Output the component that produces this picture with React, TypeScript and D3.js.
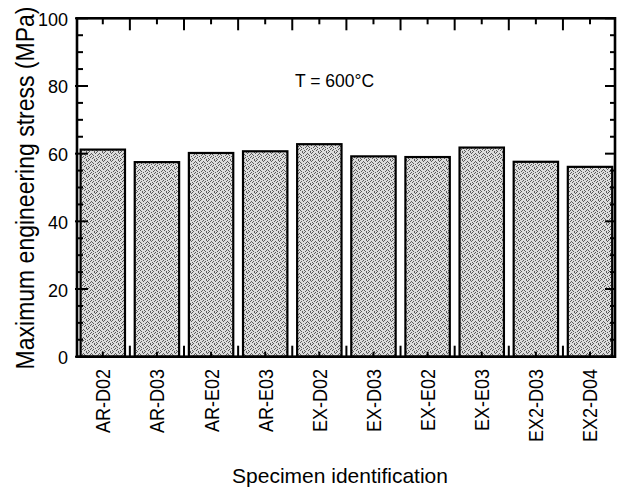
import React from "react";
import * as d3 from "d3";

const categories = ["AR-D02", "AR-D03", "AR-E02", "AR-E03", "EX-D02", "EX-D03", "EX-E02", "EX-E03", "EX2-D03", "EX2-D04"];
const stress = [61.2, 57.5, 60.2, 60.7, 62.8, 59.2, 59.0, 61.8, 57.6, 56.1];
const yTickLabels = [0, 20, 40, 60, 80, 100];
const yMinorTicks = d3.range(0, 101, 5);
const annotation = "T = 600°C";
const xTitle = "Specimen identification";
const yTitle = "Maximum engineering stress (MPa)";

// stipple dots for the pattern (fixed layout)
const stippleDots = [
  [0, 0], [3, 1], [6, 0], [1, 3], [5, 3], [7, 4], [2, 5], [4, 6], [0, 6], [6, 7], [3, 4], [1, 7],
  [4, 2], [7, 1], [2, 2], [5, 5],
];

const W = 618, H = 491;
const left = 77, right = 615, top = 18.3, bottom = 356.7;
const font = "'Liberation Sans', Arial, Helvetica, sans-serif";

export default function App() {
  const x = d3.scaleLinear().domain([0, categories.length - 1]).range([102.8, 590]);
  const y = d3.scaleLinear().domain([0, 100]).range([bottom, top]);
  const step = x(1) - x(0);
  const barW = step * 0.82;
  const boundaries = d3.range(0, categories.length - 1).map((i) => x(i + 0.5));

  return (
    <svg width={W} height={H} style={{ position: "absolute", left: 0, top: 0 }} fontFamily={font}>
      <defs>
        <pattern id="stip" width={8} height={8} patternUnits="userSpaceOnUse">
          <rect width={8} height={8} fill="#dcdcdc" />
          {stippleDots.map(([dx, dy], i) => (
            <rect key={i} x={dx} y={dy} width={1} height={1} fill="#5a5a5a" />
          ))}
        </pattern>
      </defs>
      <rect width={W} height={H} fill="#fff" />

      {/* bars */}
      {stress.map((v, i) => (
        <rect
          key={categories[i]}
          x={x(i) - barW / 2}
          y={y(v)}
          width={barW}
          height={y(0) - y(v)}
          fill="url(#stip)"
          stroke="#000"
          strokeWidth={2.2}
        />
      ))}

      {/* frame */}
      <rect x={left} y={top} width={right - left} height={bottom - top} fill="none" stroke="#000" strokeWidth={2.6} />

      {/* left/right ticks */}
      {yMinorTicks.map((t) => {
        const major = t % 20 === 0;
        return (
          <g key={t}>
            <line x1={left - (major ? 2 : 0)} x2={left + (major ? 11 : 6)} y1={y(t)} y2={y(t)} stroke="#000" strokeWidth={2} />
            <line x1={right} x2={right - (major ? 10 : 5)} y1={y(t)} y2={y(t)} stroke="#000" strokeWidth={2} />
          </g>
        );
      })}

      {/* top/bottom ticks */}
      {categories.map((c, i) => (
        <g key={c}>
          <line x1={x(i)} x2={x(i)} y1={top} y2={top + 6} stroke="#000" strokeWidth={2} />
          <line x1={x(i)} x2={x(i)} y1={bottom} y2={bottom - 5} stroke="#000" strokeWidth={2} />
        </g>
      ))}
      {boundaries.map((b, i) => (
        <g key={i}>
          <line x1={b} x2={b} y1={top} y2={top + 12} stroke="#000" strokeWidth={2} />
          <line x1={b} x2={b} y1={bottom} y2={bottom - 11} stroke="#000" strokeWidth={2} />
        </g>
      ))}

      {/* y tick labels */}
      {yTickLabels.map((t) => (
        <text key={t} x={68} y={y(t) + 1} dy="0.36em" textAnchor="end" fontSize={18}>
          {t}
        </text>
      ))}

      {/* x tick labels */}
      {categories.map((c, i) => (
        <text
          key={c}
          transform={`translate(${x(i)},369) rotate(-90) scale(1,1.15)`}
          textAnchor="end"
          dy="0.36em"
          fontSize={18}
        >
          {c}
        </text>
      ))}

      {/* annotation */}
      <text x={295} y={87} fontSize={17.5}>{annotation}</text>

      {/* axis titles */}
      <text x={340} y={482.5} textAnchor="middle" fontSize={21}>{xTitle}</text>
      <text transform={`translate(34,188) rotate(-90) scale(1,1.12)`} textAnchor="middle" fontSize={23}>{yTitle}</text>
    </svg>
  );
}
